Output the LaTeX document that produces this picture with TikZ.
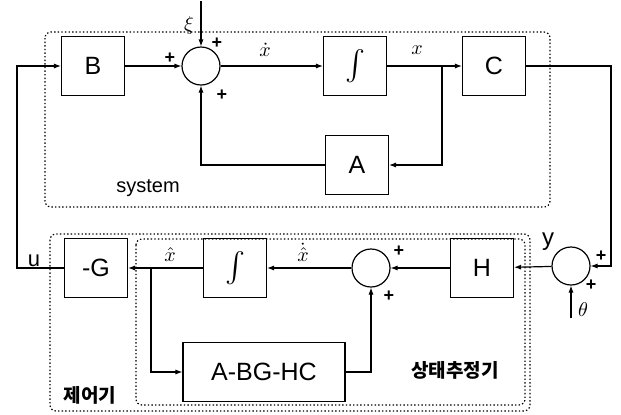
\documentclass[tikz,border=0pt]{standalone}
\usepackage{fontspec}
\usepackage{graphicx}
\setsansfont{Liberation Sans}
\newfontfamily\kr{Noto Sans CJK KR}
\usetikzlibrary{arrows.meta}
\begin{document}
\begin{tikzpicture}[x=0.5pt,y=-0.5pt, line width=0.6pt,
 blk/.style={draw, minimum width=31.5pt, minimum height=29.5pt, font=\sffamily\fontsize{12.5}{12.5}\selectfont, inner sep=0pt},
 sumj/.style={draw, circle, minimum size=19pt, inner sep=0pt},
 arr/.style={-{Latex[length=3.5pt,width=2.6pt]}},
 grp/.style={draw, dash pattern=on 0.7pt off 1.1pt, rounded corners=3pt, line width=0.6pt},
 pl/.style={font=\sffamily\bfseries\fontsize{9}{9}\selectfont, inner sep=0pt},
 ml/.style={font=\fontsize{10}{10}\selectfont, inner sep=0pt},
 sl/.style={font=\sffamily\fontsize{10}{10}\selectfont, inner sep=0pt},
 kl/.style={font=\kr\bfseries\fontsize{9.5}{9.5}\selectfont, inner sep=0pt}]
\useasboundingbox (0,0) rectangle (621,414);
% groups
\draw[grp] (45,32) rectangle (550,207);
\draw[grp] (50,234) rectangle (530,411);
\draw[grp] (136,239) rectangle (525,405);
% row 1
\node[blk] (B) at (93,66) {B};
\node[sumj] (s1) at (201,66) {};
\node[blk] (I1) at (355,66) {\scalebox{1.5}{$\int$}};
\node[blk] (C) at (494,66) {C};
\node[blk] (A) at (357,165) {A};
\coordinate (br1) at (442,66);
% row 2
\node[blk] (G) at (96,268) {-G};
\node[blk] (I2) at (235,268) {\scalebox{1.5}{$\int$}};
\node[sumj] (s3) at (371,268) {};
\node[blk] (H) at (482,268) {H};
\node[sumj] (s4) at (571,266) {};
\node[blk, minimum width=81pt] (K) at (264,372) {A-BG-HC};
\coordinate (br2) at (151,268);
% connectors
\coordinate (xi) at (201,1);
\coordinate (cr) at (611,66);
\coordinate (th) at (571,318);
\coordinate (ul) at (17,268);
\draw[arr] (B) -- (s1);
\draw[arr] (s1) -- (I1);
\draw[arr] (I1) -- (C);
\draw[arr] (br1) |- (A.east);
\draw[arr] (A.west) -| (s1.south);
\draw[arr] (xi) -- (s1.north);
\draw[arr] (C.east) -- (cr) |- (s4.east);
\draw[arr] (th) -- (s4.south);
\draw[arr] (s4) -- (H);
\draw[arr] (H) -- (s3);
\draw[arr] (s3) -- (I2);
\draw[arr] (I2) -- (G);
\draw[arr] (br2) |- (K.west);
\draw[arr] (K.east) -| (s3.south);
\draw[arr] (G.west) -- (ul) |- (B.west);
% labels
\node[ml] (lxi) at (189,25) {$\xi$};
\node[pl] (p1) at (217,43) {+};
\node[pl] (p2) at (170,58) {+};
\node[pl] (p3) at (222,95) {+};
\node[ml] (lxd) at (265,50) {$\dot{x}$};
\node[ml] (lx) at (417,50) {$x$};
\node[sl] (lsys) at (148,188) {system};
\node[sl, font=\sffamily\fontsize{11}{11}\selectfont] (lu) at (34,261) {u};
\node[ml] (lxh) at (170,255) {$\hat{x}$};
\node[ml] (lxhd) at (303,252) {$\dot{\hat{x}}$};
\node[pl] (p4) at (399,251) {+};
\node[pl] (p5) at (389,296) {+};
\node[sl, font=\sffamily\fontsize{12}{12}\selectfont] (ly) at (548,242) {y};
\node[pl] (p6) at (601,256) {+};
\node[pl] (p7) at (591,285) {+};
\node[ml] (lth) at (583,310) {$\theta$};
\node[kl] (lest) at (455,370) {상태추정기};
\node[kl] (lctl) at (90,395) {제어기};
\end{tikzpicture}
\end{document}
